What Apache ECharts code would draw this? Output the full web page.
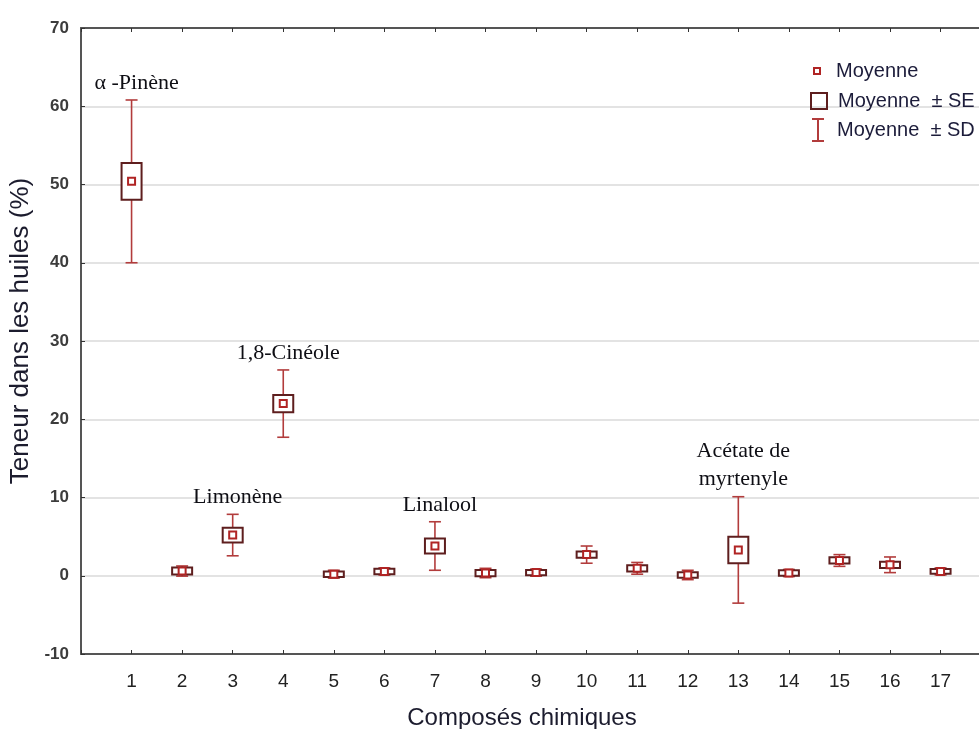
<!DOCTYPE html>
<html>
<head>
<meta charset="utf-8">
<script src="https://cdn.jsdelivr.net/npm/echarts@6/dist/echarts.min.js"></script>
<style>html,body{margin:0;padding:0;background:#fff;}#chart{width:979px;height:729px;}</style>
</head>
<body>
<div id="chart"></div>
<script>
// ---- data ----
var compounds = [1, 2, 3, 4, 5, 6, 7, 8, 9, 10, 11, 12, 13, 14, 15, 16, 17];
var means = [50.4, 0.6, 5.2, 22.0, 0.2, 0.55, 3.8, 0.35, 0.4, 2.7, 0.95, 0.1, 3.3, 0.35, 1.95, 1.4, 0.55];
var seValues = [2.35, 0.45, 0.95, 1.1, 0.35, 0.35, 0.95, 0.4, 0.35, 0.4, 0.4, 0.35, 1.7, 0.35, 0.4, 0.4, 0.3];
var sdValues = [10.4, 0.65, 2.65, 4.3, 0.5, 0.45, 3.1, 0.6, 0.45, 1.1, 0.75, 0.6, 6.8, 0.45, 0.75, 1.0, 0.45];
var annotations = ['α -Pinène', '', 'Limonène', '1,8-Cinéole', '', '', 'Linalool', '', '', '', '', '', 'Acétate de\nmyrtenyle', '', '', '', ''];
var yTicks = [-10, 0, 10, 20, 30, 40, 50, 60, 70];
var seriesNames = ['Moyenne', 'Moyenne  ± SE', 'Moyenne  ± SD'];

var sdData = compounds.map(function (c, i) { return [c, means[i], sdValues[i], i]; });
var seData = compounds.map(function (c, i) { return [c, means[i], seValues[i]]; });
var meanData = compounds.map(function (c, i) { return [c, means[i]]; });

var SD_COLOR = '#b23c3c';
var SE_COLOR = '#5e1e1e';
var MEAN_COLOR = '#b02424';

var chart = echarts.init(document.getElementById('chart'));

function renderSD(params, api) {
  var x = api.value(0), m = api.value(1), sd = api.value(2), idx = api.value(3);
  var top = api.coord([x, m + sd]);
  var bot = api.coord([x, m - sd]);
  var cap = 6;
  var children = [
    { type: 'line', shape: { x1: top[0], y1: top[1], x2: bot[0], y2: bot[1] }, style: { stroke: SD_COLOR, lineWidth: 1.6 } },
    { type: 'line', shape: { x1: top[0] - cap, y1: top[1], x2: top[0] + cap, y2: top[1] }, style: { stroke: SD_COLOR, lineWidth: 1.6 } },
    { type: 'line', shape: { x1: bot[0] - cap, y1: bot[1], x2: bot[0] + cap, y2: bot[1] }, style: { stroke: SD_COLOR, lineWidth: 1.6 } }
  ];
  var label = annotations[idx];
  if (label) {
    children.push({
      type: 'text',
      x: top[0] + 5,
      y: top[1] - 3,
      style: {
        text: label, fill: '#0e0e14', font: '22px "Liberation Serif", "Times New Roman", serif',
        align: 'center', verticalAlign: 'bottom', lineHeight: 28
      }
    });
  }
  return { type: 'group', children: children };
}

function renderSE(params, api) {
  var x = api.value(0), m = api.value(1), se = api.value(2);
  var top = api.coord([x, m + se]);
  var bot = api.coord([x, m - se]);
  var w = 20;
  return {
    type: 'rect',
    shape: { x: top[0] - w / 2, y: top[1], width: w, height: Math.max(bot[1] - top[1], 2) },
    style: { fill: '#fff', stroke: SE_COLOR, lineWidth: 2 }
  };
}

function renderMean(params, api) {
  var p = api.coord([api.value(0), api.value(1)]);
  var s = 7;
  return {
    type: 'rect',
    shape: { x: p[0] - s / 2, y: p[1] - s / 2, width: s, height: s },
    style: { fill: '#fff', stroke: MEAN_COLOR, lineWidth: 2 }
  };
}

var legendText = { fontFamily: 'Liberation Sans, Arial, sans-serif', fontSize: 20, color: '#1c1c3a' };

var option = {
  backgroundColor: '#fff',
  animation: false,
  grid: { left: 81, top: 28, right: 0, height: 626, containLabel: false, outerBoundsMode: 'none' },
  legend: [
    {
      left: 813, top: 61, itemWidth: 28, itemHeight: 8, padding: 0, selectedMode: false,
      textStyle: legendText,
      data: [{ name: seriesNames[0], icon: 'path://M0,0H8V8H0Z M2,2V6H6V2Z', itemStyle: { color: MEAN_COLOR } }]
    },
    {
      left: 810, top: 91, itemWidth: 28, itemHeight: 18, padding: 0, selectedMode: false,
      textStyle: legendText,
      data: [{ name: seriesNames[1], icon: 'path://M0,0H18V18H0Z M2,2V16H16V2Z', itemStyle: { color: SE_COLOR } }]
    },
    {
      left: 812, top: 118, itemWidth: 28, itemHeight: 24, padding: 0, selectedMode: false,
      textStyle: legendText,
      data: [{ name: seriesNames[2], icon: 'path://M0,0H12V2H7V22H12V24H0V22H5V2H0Z', itemStyle: { color: SD_COLOR } }]
    }
  ],
  xAxis: [
    {
      type: 'value', min: 0, max: 17.76, interval: 1, position: 'bottom',
      name: 'Composés chimiques', nameLocation: 'middle', nameGap: 52,
      nameTextStyle: { fontFamily: 'Liberation Sans, Arial, sans-serif', fontSize: 24, color: '#1c1c2e', padding: [0, 16, 0, 0] },
      axisLine: { show: true, onZero: false, lineStyle: { color: '#555', width: 2 } },
      axisTick: { show: true, inside: true, length: 4, lineStyle: { color: '#333' } },
      axisLabel: {
        margin: 18, fontFamily: '"Liberation Sans Narrow", "Liberation Sans", Arial, sans-serif', fontSize: 19, color: '#222',
        formatter: function (v) { return (v >= 1 && v <= 17) ? String(v) : ''; }
      },
      splitLine: { show: false }
    },
    {
      type: 'value', min: 0, max: 17.76, interval: 1, position: 'top',
      axisLine: { show: true, onZero: false, lineStyle: { color: '#555', width: 2 } },
      axisTick: { show: true, inside: true, length: 4, lineStyle: { color: '#333' } },
      axisLabel: { show: false },
      splitLine: { show: false }
    }
  ],
  yAxis: {
    type: 'value', min: yTicks[0], max: yTicks[yTicks.length - 1], interval: 10,
    name: 'Teneur dans les huiles (%)', nameLocation: 'middle', nameGap: 46, nameRotate: 90,
    nameTextStyle: { fontFamily: 'Liberation Sans, Arial, sans-serif', fontSize: 26, color: '#1c1c2e', padding: [0, 0, 0, 20] },
    axisLine: { show: true, onZero: false, lineStyle: { color: '#555', width: 2 } },
    axisTick: { show: true, inside: true, length: 4, lineStyle: { color: '#333' } },
    axisLabel: { margin: 12, fontFamily: 'Liberation Sans, Arial, sans-serif', fontSize: 17, fontWeight: 'bold', color: '#3c3c3c' },
    splitLine: { show: true, lineStyle: { color: '#dadada', width: 1.5 } }
  },
  series: [
    { name: seriesNames[2], type: 'custom', renderItem: renderSD, data: sdData, color: SD_COLOR, xAxisIndex: 0, encode: { x: 0, y: 1 }, z: 2 },
    { name: seriesNames[1], type: 'custom', renderItem: renderSE, data: seData, color: SE_COLOR, xAxisIndex: 0, encode: { x: 0, y: 1 }, z: 3 },
    { name: seriesNames[0], type: 'custom', renderItem: renderMean, data: meanData, color: MEAN_COLOR, xAxisIndex: 0, encode: { x: 0, y: 1 }, z: 4 }
  ]
};
chart.setOption(option);
</script>
</body>
</html>
